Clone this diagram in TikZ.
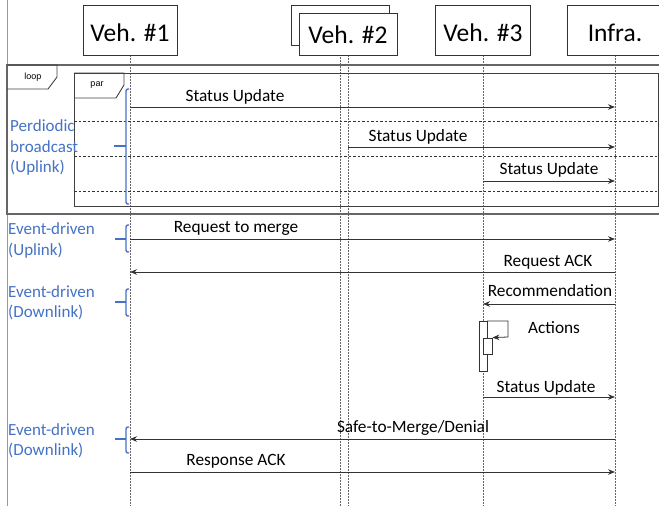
\documentclass[tikz,border=0pt]{standalone}
\usepackage{fontspec}
\setmainfont{Carlito}
\newfontfamily\tagfont{Liberation Sans}
\usetikzlibrary{arrows.meta}
\definecolor{blueann}{HTML}{4472C4}
\begin{document}
\begin{tikzpicture}[x=1pt,y=-1pt,
  hdr/.style={draw=black!80, fill=white, line width=0.8pt, inner sep=0pt,
    text height=22pt, text depth=0pt, font=\fontsize{25.5}{28}\selectfont},
  life/.style={draw=black!60, line width=0.8pt, dash pattern=on 1.5pt off 1.5pt},
  msg/.style={draw=black!80, line width=0.8pt, -{Stealth[length=7pt,width=5.5pt]}},
  lbl/.style={font=\fontsize{17.3}{20}\selectfont, anchor=base, inner sep=0pt},
  ann/.style={font=\fontsize{17}{20.5}\selectfont, text=blueann, anchor=base west, inner sep=0pt},
  brc/.style={draw=blueann, line width=1.4pt, rounded corners=2pt},
  sepline/.style={draw=black!80, line width=0.7pt, dash pattern=on 2.5pt off 2pt},
  frm/.style={draw=black!75, line width=0.9pt},
  tag/.style={font=\tagfont\fontsize{9}{10}\selectfont, inner sep=0pt},
  act/.style={draw=black!80, fill=white, line width=0.8pt}
]
\path[use as bounding box] (0,0) rectangle (659,506);
\clip (0,0) rectangle (659,506);

% left border
\draw[draw=black!40, line width=0.8pt] (7,0) -- (7,506);

% lifeline ends
\coordinate (e1) at (130,506);
\coordinate (e2a) at (340,506);
\coordinate (e2b) at (348,506);
\coordinate (e3) at (483,506);
\coordinate (e4) at (615,506);
\coordinate (t1) at (130,55);
\coordinate (t2a) at (340,45);
\coordinate (t2b) at (348,55);
\coordinate (t3) at (483,55);
\coordinate (t4) at (615,55);
\draw[life] (t1) -- (e1);
\draw[life] (t2a) -- (e2a);
\draw[life] (t2b) -- (e2b);
\draw[life] (t3) -- (e3);
\draw[life] (t4) -- (e4);

% headers
\node[hdr, minimum width=94pt, minimum height=50pt] (v1) at (130,30) {Veh. \#1};
\node[hdr, minimum width=98pt, minimum height=40pt] (v2b) at (340,25) {};
\node[hdr, minimum width=98pt, minimum height=42pt, text height=18pt] (v2) at (348,34) {Veh. \#2};
\node[hdr, minimum width=95pt, minimum height=50pt] (v3) at (483,30) {Veh. \#3};
\node[hdr, minimum width=96pt, minimum height=50pt] (v4) at (615,30) {Infra.};

% loop frame
\draw[draw=black!60, line width=1.1pt] (7,65) rectangle (700,214);
\draw[frm] (7,65) -- (57,65) -- (57,77) -- (48,89) -- (7,89);
\node[tag] (looptag) at (33,77) {loop};

% par frame
\draw[frm] (74,73) rectangle (658,206);
\draw[frm] (74,73) -- (124,73) -- (124,85) -- (116,98) -- (74,98);
\node[tag] (partag) at (97,85.5) {par};
\draw[sepline] (74,121) -- (658,121);
\draw[sepline] (74,156) -- (658,156);
\draw[sepline] (74,191) -- (658,191);

% messages
\coordinate (m1a) at (130,107); \coordinate (m1b) at (615,107);
\draw[msg] (m1a) -- (m1b);
\node[lbl] (l1) at (235,101) {Status Update};

\coordinate (m2a) at (348,147); \coordinate (m2b) at (615,147);
\draw[msg] (m2a) -- (m2b);
\node[lbl] (l2) at (418,141) {Status Update};

\coordinate (m3a) at (483,181); \coordinate (m3b) at (615,181);
\draw[msg] (m3a) -- (m3b);
\node[lbl] (l3) at (549,174) {Status Update};

\coordinate (m4a) at (130,239); \coordinate (m4b) at (615,239);
\draw[msg] (m4a) -- (m4b);
\node[lbl] (l4) at (236,232) {Request to merge};

\coordinate (m5a) at (615,272); \coordinate (m5b) at (130,272);
\draw[msg] (m5a) -- (m5b);
\node[lbl] (l5) at (548,266) {Request ACK};

\coordinate (m6a) at (615,304); \coordinate (m6b) at (483,304);
\draw[msg] (m6a) -- (m6b);
\node[lbl] (l6) at (550,296.5) {Recommendation};

% activation
\node[act, minimum width=8pt, minimum height=50pt, inner sep=0pt] (act1) at (483,346) {};
\node[act, minimum width=9pt, minimum height=16pt, inner sep=0pt] (act2) at (487.5,346) {};
\coordinate (s1) at (487,321); \coordinate (s2) at (508,321); \coordinate (s3) at (508,337);
\draw[msg] (s1) -- (s2) -- (s3) -- (act2.north east);
\node[lbl] (l7) at (554,333) {Actions};

\coordinate (m8a) at (483,397); \coordinate (m8b) at (615,397);
\draw[msg] (m8a) -- (m8b);
\node[lbl] (l8) at (546,392) {Status Update};

\coordinate (m9a) at (615,439); \coordinate (m9b) at (130,439);
\draw[msg] (m9a) -- (m9b);
\node[lbl] (l9) at (413,432) {Safe-to-Merge/Denial};

\coordinate (m10a) at (130,472); \coordinate (m10b) at (615,472);
\draw[msg] (m10a) -- (m10b);
\node[lbl] (l10) at (236,465) {Response ACK};

% annotations
\node[ann] (a1a) at (10,131) {Perdiodic};
\node[ann] (a1b) at (10,152) {broadcast};
\node[ann] (a1c) at (10,172) {(Uplink)};
\draw[brc] (129,89) -- (126,89) -- (126,204) -- (129,204);
\draw[brc] (114,146) -- (126,146);

\node[ann] (a2a) at (8,234) {Event-driven};
\node[ann] (a2b) at (8,255) {(Uplink)};
\draw[brc] (129,225) -- (126,225) -- (126,252) -- (129,252);
\draw[brc] (115,239) -- (126,239);

\node[ann] (a3a) at (8,297) {Event-driven};
\node[ann] (a3b) at (8,317) {(Downlink)};
\draw[brc] (129,289) -- (126,289) -- (126,316) -- (129,316);
\draw[brc] (115,302) -- (126,302);

\node[ann] (a4a) at (8,435) {Event-driven};
\node[ann] (a4b) at (8,455) {(Downlink)};
\draw[brc] (129,427) -- (126,427) -- (126,453) -- (129,453);
\draw[brc] (115,439) -- (126,439);
\end{tikzpicture}
\end{document}
